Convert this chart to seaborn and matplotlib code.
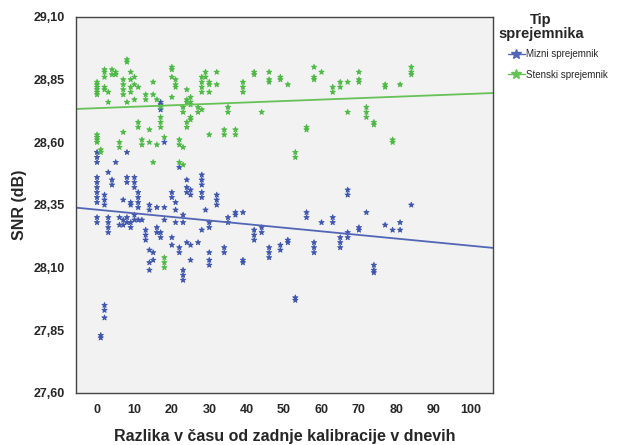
import pandas as pd
import matplotlib
matplotlib.use('Agg')
import matplotlib.pyplot as plt
from matplotlib.lines import Line2D
import seaborn as sns

# Mizni sprejemnik (modra)
mizni_dan = [0]*11 + [1]*2 + [2]*6 + [3]*5 + [4]*2 + [5] + [6]*2 + [7]*3 + [8]*5 + [9]*4 \
    + [10]*5 + [11]*5 + [12] + [13]*3 + [14]*5 + [15]*2 + [16]*3 + [17]*5 + [18]*3 + [20]*4 \
    + [21]*3 + [22]*3 + [23]*5 + [24]*4 + [25]*4 + [27] + [28]*6 + [29] + [30]*5 + [32]*3 \
    + [34]*2 + [35]*2 + [37]*2 + [39]*3 + [42]*3 + [44]*2 + [46]*3 + [49]*2 + [51]*2 + [53]*2 \
    + [56]*2 + [58]*3 + [60] + [63]*2 + [65]*3 + [67]*4 + [70]*2 + [72] + [74]*3 + [77] + [79] \
    + [81]*2 + [84]
mizni_snr = [28.56, 28.54, 28.52, 28.46, 28.44, 28.42, 28.40, 28.38, 28.36, 28.30, 28.28,
             27.83, 27.82,
             28.39, 28.37, 28.35, 27.95, 27.93, 27.90,
             28.48, 28.30, 28.28, 28.26, 28.24,
             28.45, 28.43,
             28.52,
             28.30, 28.27,
             28.37, 28.29, 28.27,
             28.56, 28.46, 28.44, 28.30, 28.28,
             28.36, 28.35, 28.28, 28.26,
             28.46, 28.44, 28.42, 28.31, 28.29,
             28.40, 28.38, 28.36, 28.34, 28.29,
             28.29,
             28.25, 28.23, 28.21,
             28.35, 28.33, 28.17, 28.12, 28.09,
             28.16, 28.13,
             28.34, 28.26, 28.24,
             28.76, 28.75, 28.73, 28.24, 28.22,
             28.60, 28.34, 28.29,
             28.40, 28.38, 28.22, 28.19,
             28.36, 28.33, 28.28,
             28.50, 28.18, 28.16,
             28.31, 28.28, 28.09, 28.07, 28.05,
             28.45, 28.42, 28.40, 28.20,
             28.41, 28.39, 28.19, 28.13,
             28.20,
             28.47, 28.45, 28.43, 28.40, 28.38, 28.25,
             28.33,
             28.28, 28.26, 28.16, 28.13, 28.11,
             28.39, 28.37, 28.35,
             28.18, 28.16,
             28.30, 28.28,
             28.32, 28.31,
             28.32, 28.13, 28.12,
             28.25, 28.23, 28.21,
             28.26, 28.24,
             28.18, 28.16, 28.14,
             28.19, 28.17,
             28.21, 28.20,
             27.98, 27.97,
             28.32, 28.30,
             28.20, 28.18, 28.16,
             28.28,
             28.30, 28.28,
             28.22, 28.20, 28.18,
             28.41, 28.39, 28.24, 28.22,
             28.26, 28.25,
             28.32,
             28.11, 28.09, 28.08,
             28.27,
             28.25,
             28.28, 28.25,
             28.35]

# Stenski sprejemnik (zelena)
stenski_dan = [0]*10 + [1]*2 + [2]*5 + [3]*2 + [4]*2 + [5]*2 + [6]*2 + [7]*5 + [8]*3 + [9]*4 \
    + [10]*3 + [11]*3 + [12]*2 + [13]*2 + [14]*2 + [15]*3 + [16]*2 + [17]*4 + [18]*4 + [20]*4 \
    + [21]*3 + [22]*3 + [23]*4 + [24]*5 + [25]*5 + [27]*2 + [28]*5 + [29]*2 + [30]*4 + [32]*2 \
    + [34]*2 + [35]*2 + [37]*2 + [39]*3 + [42]*2 + [44] + [46]*3 + [49]*2 + [51] + [53]*2 \
    + [56]*2 + [58]*3 + [60] + [63]*2 + [65]*2 + [67]*2 + [70]*3 + [72]*3 + [74]*2 + [77]*2 \
    + [79]*2 + [81] + [84]*3
stenski_snr = [28.84, 28.83, 28.82, 28.81, 28.80, 28.79, 28.63, 28.62, 28.61, 28.60,
               28.57, 28.56,
               28.89, 28.88, 28.86, 28.82, 28.81,
               28.80, 28.76,
               28.89, 28.87,
               28.88, 28.87,
               28.60, 28.58,
               28.85, 28.83, 28.81, 28.79, 28.64,
               28.93, 28.92, 28.76,
               28.88, 28.85, 28.82, 28.80,
               28.86, 28.83, 28.77,
               28.82, 28.68, 28.66,
               28.61, 28.59,
               28.79, 28.77,
               28.65, 28.60,
               28.84, 28.79, 28.52,
               28.77, 28.59,
               28.74, 28.70, 28.68, 28.66,
               28.62, 28.14, 28.12, 28.10,
               28.90, 28.89, 28.86, 28.78,
               28.85, 28.83, 28.82,
               28.61, 28.59, 28.52,
               28.74, 28.72, 28.58, 28.51,
               28.81, 28.77, 28.76, 28.68, 28.66,
               28.78, 28.76, 28.75, 28.70, 28.69,
               28.74, 28.72,
               28.86, 28.84, 28.82, 28.80, 28.73,
               28.88, 28.86,
               28.84, 28.83, 28.80, 28.63,
               28.88, 28.83,
               28.65, 28.63,
               28.74, 28.72,
               28.65, 28.63,
               28.84, 28.82, 28.80,
               28.88, 28.87,
               28.72,
               28.88, 28.85, 28.84,
               28.86, 28.85,
               28.83,
               28.56, 28.54,
               28.66, 28.65,
               28.90, 28.86, 28.85,
               28.88,
               28.82, 28.80,
               28.84, 28.82,
               28.84, 28.72,
               28.88, 28.85, 28.84,
               28.74, 28.72, 28.70,
               28.68, 28.67,
               28.83, 28.82,
               28.61, 28.60,
               28.83,
               28.90, 28.88, 28.87]

# premici (odsek, naklon) kot na sliki
mizni_fit = (28.331, -0.00144)
stenski_fit = (28.736, 0.00057)

tipi = ['Mizni sprejemnik', 'Stenski sprejemnik']
barve = {'Mizni sprejemnik': '#3e55ad', 'Stenski sprejemnik': '#4cb944'}
barve_crt = {'Mizni sprejemnik': '#5366b5', 'Stenski sprejemnik': '#66c257'}

y_ticks = [27.60, 27.85, 28.10, 28.35, 28.60, 28.85, 29.10]
x_ticks = list(range(0, 101, 10))

df = pd.DataFrame({
    'dan': mizni_dan + stenski_dan,
    'snr': mizni_snr + stenski_snr,
    'tip': [tipi[0]] * len(mizni_dan) + [tipi[1]] * len(stenski_dan),
})

sns.set_style('white')
plt.rcParams['font.family'] = ['Liberation Sans', 'DejaVu Sans']

fig = plt.figure(figsize=(6.34, 4.45), dpi=100)
ax = fig.add_axes([0.12, 0.117, 0.658, 0.845])
ax.set_facecolor('#f2f2f2')

sns.scatterplot(data=df, x='dan', y='snr', hue='tip', palette=barve,
                marker='*', s=16, linewidth=0.6, edgecolor='face', legend=False, ax=ax)

ax.set_xlim(-5.6, 105.9)
ax.set_ylim(27.6, 29.1)

for tip, (b, k) in zip(tipi, [mizni_fit, stenski_fit]):
    ax.axline((0, b), slope=k, color=barve_crt[tip], lw=1.3)

ax.set_xticks(x_ticks)
ax.set_xticklabels([str(t) for t in x_ticks], fontweight='bold', fontsize=9)
ax.set_yticks(y_ticks)
ax.set_yticklabels([f'{t:.2f}'.replace('.', ',') for t in y_ticks], fontweight='bold', fontsize=9)
ax.tick_params(direction='out', length=5, width=1, color='#333333', pad=3)
for s in ax.spines.values():
    s.set_color('#444444')
    s.set_linewidth(1)

ax.set_xlabel('Razlika v času od zadnje kalibracije v dnevih', fontweight='bold', fontsize=11.5, labelpad=9)
ax.set_ylabel('SNR (dB)', fontweight='bold', fontsize=11.5, labelpad=5)

fig.text(541 / 634, 1 - 13 / 445, 'Tip\nsprejemnika', ha='center', va='top',
         fontweight='bold', fontsize=10.5, linespacing=1.0)

handles = [Line2D([], [], color=barve_crt[t], marker='*', markersize=7, lw=1) for t in tipi]
fig.legend(handles, tipi, loc='upper left', bbox_to_anchor=(508 / 634, 1 - 49 / 445),
           frameon=False, fontsize=7, handlelength=1.7, handletextpad=0.1,
           labelspacing=1.1, borderpad=0, borderaxespad=0)

fig.savefig('out.png', dpi=100)
